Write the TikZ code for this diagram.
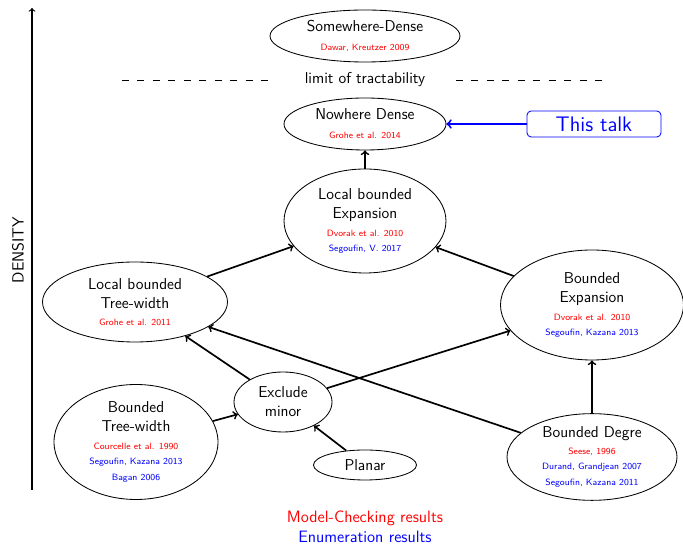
\documentclass[tikz,border=0pt]{standalone}
\usepackage{tikz}
\usetikzlibrary{shapes}
\newcommand{\mcres}[1]{{\color{red}\fontsize{6.5}{7.5}\selectfont #1}}
\newcommand{\enres}[1]{{\color{blue}\fontsize{6.5}{7.5}\selectfont #1}}
\tikzset{
  cls/.style={ellipse, draw, semithick, inner sep=0pt, align=center, font=\sffamily\fontsize{11.2}{13.5}\selectfont},
  incl/.style={->, line width=1.2pt},
  plain/.style={font=\sffamily\fontsize{11.2}{13.5}\selectfont}
}
\begin{document}
\begin{tikzpicture}
         \useasboundingbox (0,0) rectangle (17.075,13.625);
         % density axis
         \coordinate (axlo) at (0.8,1.375);
         \coordinate (axhi) at (0.8,13.425);
         \draw[->, thick] (axlo) -- (axhi);
         \node[plain, rotate=90, font=\sffamily\fontsize{11.5}{13.5}\selectfont] (density) at (0.45,7.375) {DENSITY};
         % classes
         \node[cls, minimum width=4.75cm, minimum height=1.3cm] (sd) at (9.125,12.725) {Somewhere-Dense\\\mcres{Dawar, Kreutzer 2009}};
         \node[plain] (limit) at (9.125,11.625) {limit of tractability};
         \coordinate (dl1) at (3.05,11.625);
         \coordinate (dl2) at (6.9,11.625);
         \coordinate (dr1) at (11.4,11.625);
         \coordinate (dr2) at (15.25,11.625);
         \draw[dash pattern=on 5pt off 6pt] (dl1) -- (dl2);
         \draw[dash pattern=on 5pt off 6pt] (dr1) -- (dr2);
         \node[cls, minimum width=4.05cm, minimum height=1.3cm] (nd) at (9.125,10.525) {Nowhere Dense\\\mcres{Grohe et al. 2014}};
         \node[draw=blue, semithick, rounded corners=3pt, text=blue, minimum width=3.35cm, minimum height=0.65cm, font=\sffamily\fontsize{15}{17}\selectfont] (talk) at (14.85,10.525) {This talk};
         \node[cls, minimum width=4.05cm, minimum height=2.6cm] (lbe) at (9.125,8.1) {Local bounded\\Expansion\\[-1pt]\mcres{Dvorak et al. 2010}\\[-3pt]\enres{Segoufin, V. 2017}};
         \node[cls, minimum width=4.625cm, minimum height=2.0cm] (lbt) at (3.375,6.075) {Local bounded\\Tree-width\\[-1pt]\mcres{Grohe et al. 2011}};
         \node[cls, minimum width=4.575cm, minimum height=2.75cm] (be) at (14.8,6.0) {Bounded\\Expansion\\[-1pt]\mcres{Dvorak et al. 2010}\\[-3pt]\enres{Segoufin, Kazana 2013}};
         \node[cls, minimum width=2.45cm, minimum height=1.5cm] (em) at (7.075,3.575) {Exclude\\minor};
         \node[cls, minimum width=4.1cm, minimum height=2.875cm] (btw) at (3.4,2.575) {Bounded\\Tree-width\\[-1pt]\mcres{Courcelle et al. 1990}\\[-3pt]\enres{Segoufin, Kazana 2013}\\[-2pt]\enres{Bagan 2006}};
         \node[cls, minimum width=2.575cm, minimum height=0.75cm] (planar) at (9.125,2.0) {Planar};
         \node[cls, minimum width=4.25cm, minimum height=2.125cm] (bd) at (14.8,2.2) {Bounded Degre\\[-1pt]\mcres{Seese, 1996}\\[-3pt]\enres{Durand, Grandjean 2007}\\[-2pt]\enres{Segoufin, Kazana 2011}};
         % inclusions
         \draw[incl] (lbe) -- (nd);
         \draw[incl] (lbt) -- (lbe);
         \draw[incl] (be) -- (lbe);
         \draw[incl] (em) -- (lbt);
         \draw[incl] (bd) -- (lbt);
         \draw[incl] (em) -- (be);
         \draw[incl] (btw) -- (em);
         \draw[incl] (planar) -- (em);
         \draw[incl] (bd) -- (be);
         \draw[->, blue, line width=1.4pt] (talk) -- (nd);
         % legend
         \node[text=red, font=\sffamily\fontsize{11.7}{13.5}\selectfont] (mclegend) at (9.125,0.675) {Model-Checking results};
         \node[text=blue, font=\sffamily\fontsize{11.7}{13.5}\selectfont] (enlegend) at (9.125,0.2) {Enumeration results};
      \end{tikzpicture}
\end{document}
